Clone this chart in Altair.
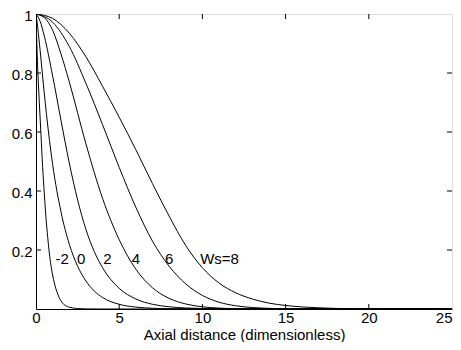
import altair as alt
import pandas as pd

# Curves (Ws = -2, 0, 2, 4, 6, 8)
ws_m2_x = [0, 0.05, 0.1, 0.2, 0.3, 0.4, 0.5, 0.6, 0.7, 0.8, 1.0, 1.2, 1.4, 1.6, 2.0, 2.5, 3.0, 4.0, 25]
ws_m2_y = [1, 0.90, 0.82, 0.70, 0.59, 0.48, 0.39, 0.31, 0.245, 0.19, 0.115, 0.068, 0.038, 0.02, 0.006, 0.0015, 0.0003, 0, 0]

ws_0_x = [0, 0.1, 0.25, 0.5, 0.75, 1.0, 1.5, 2.0, 2.5, 3.0, 3.5, 4.0, 5.0, 6.0, 7.0, 8.0, 25]
ws_0_y = [1, 0.955, 0.875, 0.73, 0.60, 0.49, 0.33, 0.22, 0.145, 0.095, 0.061, 0.039, 0.016, 0.0065, 0.0026, 0.001, 0]

ws_2_x = [0, 0.25, 0.5, 1.0, 1.5, 2.0, 2.5, 3.0, 3.5, 4.0, 5.0, 6.0, 7.0, 8.0, 9.0, 10.0, 11.0, 25]
ws_2_y = [1, 0.975, 0.925, 0.79, 0.64, 0.495, 0.37, 0.27, 0.195, 0.14, 0.07, 0.034, 0.016, 0.0075, 0.0035, 0.0015, 0.0006, 0]

ws_4_x = [0, 0.5, 1, 1.5, 2, 3, 4, 5, 6, 7, 8, 9, 10, 11, 12, 13, 25]
ws_4_y = [1, 0.988, 0.945, 0.865, 0.77, 0.56, 0.375, 0.235, 0.135, 0.072, 0.036, 0.017, 0.0075, 0.003, 0.0012, 0.0005, 0]

ws_6_x = [0, 1, 2, 3, 4, 5, 6, 7, 8, 9, 10, 11, 12, 13, 14, 15, 16, 25]
ws_6_y = [1, 0.972, 0.89, 0.765, 0.625, 0.48, 0.345, 0.23, 0.145, 0.085, 0.046, 0.023, 0.011, 0.005, 0.0022, 0.001, 0.0004, 0]

ws_8_x = [0, 1, 2, 3, 4, 5, 6, 7, 8, 9, 10, 11, 12, 13, 14, 15, 16, 17, 18, 19, 20, 25]
ws_8_y = [1, 0.985, 0.935, 0.855, 0.755, 0.65, 0.54, 0.425, 0.315, 0.215, 0.14, 0.088, 0.055, 0.034, 0.02, 0.012, 0.007, 0.004, 0.002, 0.001, 0.0005, 0]

curves = [("-2", ws_m2_x, ws_m2_y), ("0", ws_0_x, ws_0_y), ("2", ws_2_x, ws_2_y),
          ("4", ws_4_x, ws_4_y), ("6", ws_6_x, ws_6_y), ("8", ws_8_x, ws_8_y)]

label_text = ["-2", "0", "2", "4", "6", "Ws=8"]
label_x = [1.57, 2.71, 4.29, 6.01, 8.0, 11.03]
label_y = [0.168, 0.168, 0.168, 0.168, 0.168, 0.168]

x_ticks = [0, 5, 10, 15, 20, 25]
y_ticks = [0.2, 0.4, 0.6, 0.8, 1.0]

rows = []
for name, xs, ys in curves:
    for xv, yv in zip(xs, ys):
        rows.append({"ws": name, "x": xv, "y": yv})
df = pd.DataFrame(rows)
labels = pd.DataFrame({"t": label_text, "x": label_x, "y": label_y})
xt = pd.DataFrame({"v": x_ticks[1:-1]})
yt = pd.DataFrame({"v": y_ticks[:-1]})

W, H = 416, 295
FONT = "Liberation Sans"

xscale = alt.Scale(domain=[0, 25], nice=False, zero=False)
yscale = alt.Scale(domain=[0, 1], nice=False, zero=False)

lines = alt.Chart(df).mark_line(color="black", strokeWidth=1, interpolate="monotone", clip=True).encode(
    x=alt.X("x:Q", scale=xscale,
            axis=alt.Axis(values=x_ticks, title="Axial distance (dimensionless)", grid=False,
                          ticks=False, tickSize=0, labelPadding=1, titlePadding=2,
                          labelAlign={"condition": {"test": "datum.value == 25", "value": "right"},
                                      "value": "center"},
                          domainColor="black", labelColor="black", titleColor="black",
                          labelFont=FONT, titleFont=FONT, labelFontSize=15, titleFontSize=15,
                          titleFontWeight="normal")),
    y=alt.Y("y:Q", scale=yscale,
            axis=alt.Axis(values=y_ticks, format="~g", title=None, grid=False,
                          ticks=False, tickSize=0, labelPadding=4, labelOffset=1,
                          domainColor="black", labelColor="black",
                          labelFont=FONT, labelFontSize=15)),
    detail="ws:N",
)

text = alt.Chart(labels).mark_text(font=FONT, fontSize=15, color="black", align="center",
                                   baseline="middle").encode(
    x=alt.X("x:Q", scale=xscale), y=alt.Y("y:Q", scale=yscale), text="t:N")

tick_len = 5
xb = alt.Chart(xt).mark_rule(color="black", strokeWidth=1).encode(
    x=alt.X("v:Q", scale=xscale), y=alt.value(H), y2=alt.value(H - tick_len))
xtop = alt.Chart(xt).mark_rule(color="black", strokeWidth=1).encode(
    x=alt.X("v:Q", scale=xscale), y=alt.value(0), y2=alt.value(tick_len))
yl = alt.Chart(yt).mark_rule(color="black", strokeWidth=1).encode(
    y=alt.Y("v:Q", scale=yscale), x=alt.value(0), x2=alt.value(tick_len))
yr = alt.Chart(yt).mark_rule(color="black", strokeWidth=1).encode(
    y=alt.Y("v:Q", scale=yscale), x=alt.value(W), x2=alt.value(W - tick_len))

chart = alt.layer(lines, text, xb, xtop, yl, yr).properties(
    width=W, height=H,
    autosize=alt.AutoSizeParams(type="none"),
    padding={"left": 28, "top": 6, "right": 1, "bottom": 33},
).configure_view(stroke="black", strokeWidth=1).configure(background="white")

chart.save("out.html", embed_options={"renderer": "svg", "actions": False})
